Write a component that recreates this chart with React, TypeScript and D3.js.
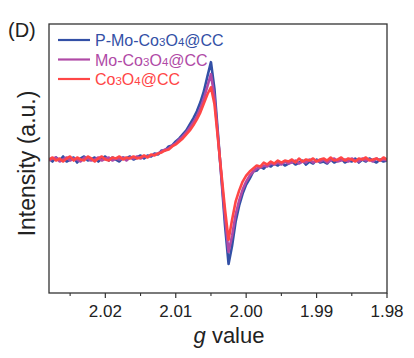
import React from "react";
import * as d3 from "d3";

const gValues: number[] = [
  2.028, 2.0275, 2.027, 2.0265, 2.026, 2.0255, 2.025, 2.0245, 2.024, 2.0235,
  2.023, 2.0225, 2.022, 2.0215, 2.021, 2.0205, 2.02, 2.0195, 2.019, 2.0185,
  2.018, 2.0175, 2.017, 2.0165, 2.016, 2.0155, 2.015, 2.0145, 2.014, 2.0135,
  2.013, 2.0125, 2.012, 2.0115, 2.011, 2.0105, 2.01, 2.0095, 2.009, 2.0085,
  2.008, 2.0075, 2.007, 2.0065, 2.006, 2.0055, 2.005, 2.0045, 2.004, 2.0035,
  2.003, 2.0025, 2.002, 2.0015, 2.001, 2.0005, 2.0, 1.9995, 1.999, 1.9985,
  1.998, 1.9975, 1.997, 1.9965, 1.996, 1.9955, 1.995, 1.9945, 1.994, 1.9935,
  1.993, 1.9925, 1.992, 1.9915, 1.991, 1.9905, 1.99, 1.9895, 1.989, 1.9885,
  1.988, 1.9875, 1.987, 1.9865, 1.986, 1.9855, 1.985, 1.9845, 1.984, 1.9835,
  1.983, 1.9825, 1.982, 1.9815, 1.981, 1.9805, 1.98,
];

const pMoCo3O4: number[] = [
  1, -2, 2, -1, 3, -2, 0, 2, -3, 1,
  3, -1, 0, 2, -2, 1, 3, -1, 2, 0,
  -2, 2, 1, 3, 0, 2, 4, 1, 4, 3,
  6, 5, 9, 9, 13, 14, 18, 21, 25, 29,
  35, 41, 48, 57, 68, 83, 97, 70, 25, -20,
  -66, -104, -86, -62, -46, -34, -25, -19, -12, -11,
  -7, -9, -5, -7, -4, -6, -3, -6, -4, -2,
  -5, -3, -1, -5, -2, -4, 0, -3, -2, -4,
  0, -3, -1, 1, -3, -1, -2, 1, -3, 0,
  -2, 1, -1, -3, 0, -2, -1,
];

const moCo3O4: number[] = [
  -1, 1, 2, -2, 0, 2, -1, 1, 0, -2,
  2, 1, -1, 0, 2, -1, 1, 2, -1, 1,
  0, 2, -1, 2, 1, 3, 1, 3, 3, 4,
  5, 6, 8, 10, 11, 14, 16, 20, 23, 27,
  32, 37, 43, 51, 61, 73, 85, 62, 22, -18,
  -58, -92, -76, -55, -41, -30, -22, -16, -12, -9,
  -8, -6, -7, -4, -5, -3, -5, -2, -4, -3,
  -1, -4, -2, -3, 0, -3, -1, -2, 0, -3,
  -1, 1, -2, -1, 0, -2, 1, -1, -2, 1,
  -1, 0, -2, 1, -1, 0, -1,
];

const co3O4: number[] = [
  0, 2, -1, 1, -2, 1, 3, -1, 2, 0,
  -1, 3, 1, -2, 1, 3, 0, -1, 2, 1,
  3, 0, 2, 1, 3, 1, 2, 4, 2, 5,
  4, 6, 7, 9, 10, 13, 15, 18, 21, 25,
  29, 34, 40, 47, 56, 65, 72, 55, 20, -15,
  -50, -80, -60, -42, -31, -22, -16, -12, -9, -6,
  -7, -3, -5, -2, -4, -1, -3, -1, -2, 0,
  -3, 1, -2, 0, -1, 1, -2, 0, 1, -1,
  2, -1, 0, 2, -1, 1, 0, -2, 1, 0,
  2, -1, 0, 1, -1, 2, 0,
];

const seriesNames: string[] = ["P-Mo-Co3O4@CC", "Mo-Co3O4@CC", "Co3O4@CC"];
const seriesColors: string[] = ["#3350a6", "#b04aa6", "#ff4646"];
const majorTicks: number[] = [2.02, 2.01, 2.0, 1.99, 1.98];
const minorTicks: number[] = [2.025, 2.015, 2.005, 1.995, 1.985];

const W = 414;
const H = 358;
const L = 49;
const R = 387;
const T = 24;
const B = 293;

const FONT = "Liberation Sans, Arial, Helvetica, sans-serif";

function LegendLabel({ name }: { name: string }) {
  const parts = name.split(/(\d)/).filter((p) => p.length > 0);
  return (
    <>
      {parts.map((p, i) =>
        /\d/.test(p) ? (
          <tspan key={i} fontSize={11.5}>
            {p}
          </tspan>
        ) : (
          <tspan key={i}>{p}</tspan>
        )
      )}
    </>
  );
}

export default function App() {
  const x = d3.scaleLinear().domain([2.028, 1.98]).range([L, R]);
  const y = d3.scaleLinear().domain([-133, 135]).range([B, T]);
  const allSeries = [pMoCo3O4, moCo3O4, co3O4];
  const line = d3
    .line<number>()
    .x((_, i) => x(gValues[i]))
    .y((d) => y(d))
    .curve(d3.curveLinear);

  return (
    <svg
      width={W}
      height={H}
      style={{ position: "absolute", left: 0, top: 0, background: "#fff" }}
      fontFamily={FONT}
    >
      <rect x={0} y={0} width={W} height={H} fill="#fff" />
      <defs>
        <clipPath id="plotclip">
          <rect x={L} y={T} width={R - L} height={B - T} />
        </clipPath>
      </defs>
      <g clipPath="url(#plotclip)">
        {allSeries.map((s, k) => (
          <path
            key={k}
            d={line(s) || ""}
            fill="none"
            stroke={seriesColors[k]}
            strokeWidth={2.6}
            strokeLinejoin="round"
          />
        ))}
      </g>
      <rect x={L} y={T} width={R - L} height={B - T} fill="none" stroke="#333" strokeWidth={1.3} />
      {majorTicks.map((t) => (
        <g key={"M" + t}>
          <line x1={x(t)} x2={x(t)} y1={B} y2={B + 5} stroke="#333" strokeWidth={1.2} />
          <text x={x(t)} y={317} textAnchor="middle" fontSize={17} fill="#222">
            {t.toFixed(2)}
          </text>
        </g>
      ))}
      {minorTicks.map((t) => (
        <line key={"m" + t} x1={x(t)} x2={x(t)} y1={B} y2={B + 3} stroke="#333" strokeWidth={1.1} />
      ))}
      <text x={229} y={343} textAnchor="middle" fontSize={22} fill="#222">
        <tspan fontStyle="italic">g</tspan> value
      </text>
      <text
        transform={`translate(35, ${(T + B) / 2 + 5}) rotate(-90)`}
        textAnchor="middle"
        fontSize={23}
        fill="#222"
      >
        Intensity (a.u.)
      </text>
      <text x={8} y={37} fontSize={20} fill="#222">
        (D)
      </text>
      {seriesNames.map((n, k) => {
        const ly = 40 + k * 19.5;
        return (
          <g key={n}>
            <line x1={58} x2={90} y1={ly} y2={ly} stroke={seriesColors[k]} strokeWidth={2.2} />
            <text x={95} y={ly + 6} fontSize={16} fill={seriesColors[k]}>
              <LegendLabel name={n} />
            </text>
          </g>
        );
      })}
    </svg>
  );
}
